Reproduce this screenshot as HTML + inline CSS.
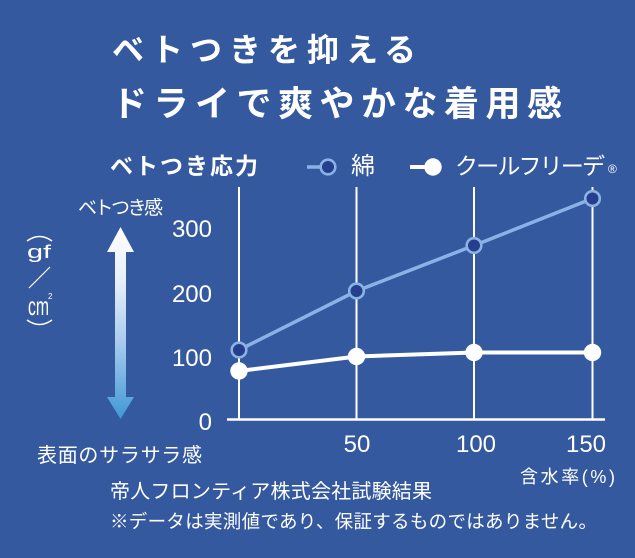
<!DOCTYPE html>
<html><head><meta charset="utf-8">
<style>
html,body{margin:0;padding:0;background:#35599f;}
svg{display:block;}
text{fill:#fff;}
.jp{font-family:"Liberation Sans","Noto Sans CJK JP",sans-serif;}
.num{font-family:"Liberation Sans",sans-serif;}
</style></head>
<body>
<svg width="635" height="558" viewBox="0 0 635 558" xmlns="http://www.w3.org/2000/svg">
<defs>
<linearGradient id="ag" x1="0" y1="227" x2="0" y2="419" gradientUnits="userSpaceOnUse">
<stop offset="0" stop-color="#ffffff"/>
<stop offset="0.3" stop-color="#e4eef9"/>
<stop offset="0.6" stop-color="#a8cbee"/>
<stop offset="1" stop-color="#3f98d5"/>
</linearGradient>
</defs>
<rect width="635" height="558" fill="#35599f"/>

<!-- Title -->
<text class="jp" x="112" y="61" font-size="32" font-weight="bold" textLength="304" lengthAdjust="spacing">ベトつきを抑える</text>
<text class="jp" x="112" y="116" font-size="35" font-weight="bold" textLength="450" lengthAdjust="spacing">ドライで爽やかな着用感</text>

<!-- Chart title & legend -->
<text class="jp" x="110" y="174" font-size="23" font-weight="bold" textLength="148" lengthAdjust="spacing">ベトつき応力</text>
<line x1="307" y1="167" x2="322" y2="167" stroke="#8ab2e6" stroke-width="3.5"/>
<circle cx="328" cy="167" r="7.3" fill="#263f8c" stroke="#8ab2e6" stroke-width="2.6"/>
<text class="jp" x="351" y="174" font-size="24">綿</text>
<line x1="410" y1="167" x2="428" y2="167" stroke="#fff" stroke-width="4"/>
<circle cx="433" cy="167" r="8.7" fill="#fff"/>
<text class="jp" x="455" y="174" font-size="23" textLength="150" lengthAdjust="spacing">クールフリーデ</text>
<text class="jp" x="608" y="173" font-size="12">®</text>

<!-- Left labels -->
<text class="jp" x="78" y="214" font-size="19" textLength="85" lengthAdjust="spacing">ベトつき感</text>
<polygon points="120.5,227 134,252 126,252 126,397 134,397 120.5,419 107,397 115,397 115,252 107,252" fill="url(#ag)"/>
<text class="jp" x="37" y="462" font-size="20" textLength="165" lengthAdjust="spacing">表面のサラサラ感</text>

<!-- unit -->
<path d="M27,241 Q39.5,232 52,241" fill="none" stroke="#fff" stroke-width="1.5"/>
<text class="num" x="27" y="258" font-size="18" textLength="24" lengthAdjust="spacingAndGlyphs">gf</text>
<line x1="29" y1="288" x2="50" y2="267" stroke="#fff" stroke-width="1.2"/>
<text class="num" transform="translate(28,315) scale(1,1.7)" font-size="15" textLength="21" lengthAdjust="spacingAndGlyphs">cm</text>
<text class="num" x="48" y="299" font-size="8">2</text>
<path d="M27,320 Q39.5,329 52,320" fill="none" stroke="#fff" stroke-width="1.5"/>

<!-- Grid -->
<g stroke="#fff" stroke-width="2">
<line x1="239" y1="187" x2="239" y2="419"/>
<line x1="356.5" y1="187" x2="356.5" y2="419"/>
<line x1="474" y1="187" x2="474" y2="419"/>
<line x1="592.5" y1="187" x2="592.5" y2="419"/>
</g>
<line x1="227" y1="419.5" x2="605" y2="419.5" stroke="#fff" stroke-width="2.5"/>

<!-- Y ticks -->
<g class="num" font-size="24" text-anchor="end">
<text x="212" y="237">300</text>
<text x="212" y="302">200</text>
<text x="212" y="366">100</text>
<text x="212" y="430">0</text>
</g>
<!-- X ticks -->
<g class="num" font-size="24" text-anchor="middle">
<text x="357" y="452">50</text>
<text x="476" y="452">100</text>
<text x="586" y="452">150</text>
</g>
<text class="jp" x="520" y="483" font-size="18" textLength="95" lengthAdjust="spacing">含水率(%)</text>

<!-- Cotton series -->
<polyline points="239,350 356.5,291 474,245.5 592.5,198.5" fill="none" stroke="#8ab2e6" stroke-width="3.5"/>
<g fill="#263f8c" stroke="#8ab2e6" stroke-width="2.6">
<circle cx="239" cy="350" r="7.3"/>
<circle cx="356.5" cy="291" r="7.3"/>
<circle cx="474" cy="245.5" r="7.3"/>
<circle cx="592.5" cy="198.5" r="7.3"/>
</g>

<!-- Cool free series -->
<polyline points="239,371 356.5,356.5 474,352.5 592.5,352.5" fill="none" stroke="#fff" stroke-width="4"/>
<g fill="#fff">
<circle cx="239" cy="371" r="8.7"/>
<circle cx="356.5" cy="356.5" r="8.7"/>
<circle cx="474" cy="352.5" r="8.7"/>
<circle cx="592.5" cy="352.5" r="8.7"/>
</g>

<!-- Footer -->
<text class="jp" x="110" y="498" font-size="20" textLength="322" lengthAdjust="spacing">帝人フロンティア株式会社試験結果</text>
<text class="jp" x="110" y="528" font-size="18.5" textLength="487" lengthAdjust="spacing">※データは実測値であり、保証するものではありません。</text>
</svg>
</body></html>
